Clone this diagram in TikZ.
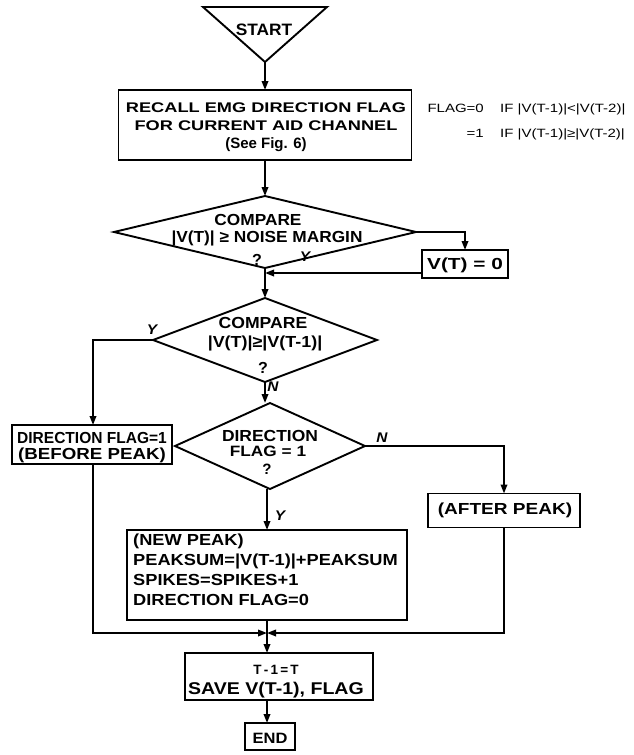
\documentclass[tikz,border=0pt]{standalone}
\usepackage{fontspec}
\setmainfont{Liberation Sans}
\newfontfamily\fB{Liberation Sans}[FakeStretch=1.1]
\newfontfamily\fR{Liberation Sans}[FakeStretch=1.25]
\usetikzlibrary{arrows.meta,shapes.geometric,calc}
\newcommand\fsz[2]{\fontsize{#1}{#1}\selectfont\addfontfeature{FakeStretch=#2}}
\begin{document}
\begin{tikzpicture}[x=1pt,y=-1pt,
 ln/.style={line width=1.9pt, line join=miter},
 arr/.style={ln, -{Triangle[length=9pt,width=6.5pt]}},
 box/.style={draw, ln, rectangle, inner sep=0pt, outer sep=0pt},
 dia/.style={draw, ln, diamond, inner sep=0pt, outer sep=0pt},
 tx/.style={inner sep=0pt, anchor=base, font=\fB\bfseries\fontsize{16}{18}\selectfont},
 yn/.style={inner sep=0pt, font=\fB\bfseries\itshape\fontsize{14}{14}\selectfont},
 an/.style={inner sep=0pt, font=\fR\fontsize{12}{12}\selectfont}]
\useasboundingbox (0,0) rectangle (633,755);

% START
\coordinate (sa) at (265,62);
\draw[ln] (203,7) -- (327,7) -- (sa) -- cycle;
\node[tx] (tstart) at (264,35) {\fsz{16.5}{1.05}START};

% box 1
\node[box, minimum width=293, minimum height=70] (b1) at (265,125) {};
\node[tx] (b1a) at (266,112) {\fsz{14}{1.3}RECALL EMG DIRECTION FLAG};
\node[tx] (b1b) at (266,130) {\fsz{14}{1.3}FOR CURRENT AID CHANNEL};
\node[tx] (b1c) at (266,148) {\fsz{15}{1.0}(See Fig. 6)};

% annotation
\node[an, anchor=base east] (f0) at (484,112) {FLAG=0};
\node[an, anchor=base west] (f0b) at (500,112) {IF |V(T-1)|<|V(T-2)|};
\node[an, anchor=base east] (f1) at (484,137) {=1};
\node[an, anchor=base west] (f1b) at (500,137) {IF |V(T-1)|≥|V(T-2)|};

% diamond 1
\node[dia, minimum width=302, minimum height=72] (d1) at (265,232) {};
\node[tx] (d1a) at (258,225) {\fsz{16}{1.08}COMPARE};
\node[tx] (d1b) at (267,242) {\fsz{16}{1.08}|V(T)| ≥ NOISE MARGIN};
\node[tx] (d1c) at (257,265) {\fsz{16}{1}?};

% V(T)=0
\node[box, minimum width=86, minimum height=28] (v0) at (465,264) {};
\node[tx] (v0t) at (465,269) {\fsz{16}{1.3}V(T) = 0};

% diamond 2
\node[dia, minimum width=224, minimum height=84] (d2) at (265,340) {};
\node[tx] (d2a) at (263,328) {\fsz{16}{1.1}COMPARE};
\node[tx] (d2b) at (265,347) {\fsz{16}{1.12}|V(T)|≥|V(T-1)|};
\node[tx] (d2c) at (263,373) {\fsz{16}{1}?};

% before peak
\node[box, minimum width=160, minimum height=39] (bp) at (92,444.5) {};
\node[tx] (bpa) at (92,443) {\fsz{16}{0.97}DIRECTION FLAG=1};
\node[tx] (bpb) at (92,459) {\fsz{16}{1.17}(BEFORE PEAK)};

% diamond 3
\node[dia, minimum width=190, minimum height=86] (d3) at (270,446) {};
\node[tx] (d3a) at (270,441) {\fsz{16}{1.09}DIRECTION};
\node[tx] (d3b) at (268,456) {\fsz{15}{1.15}FLAG = 1};
\node[tx] (d3c) at (267,474) {\fsz{15}{1}?};

% after peak
\node[box, minimum width=152, minimum height=34] (ap) at (504,510.5) {};
\node[tx] (apt) at (505,514) {\fsz{16}{1.19}(AFTER PEAK)};

% new peak
\node[box, minimum width=280, minimum height=90] (np) at (267,575) {};
\node[tx, anchor=base west] (npa) at (133,545) {\fsz{16}{1.14}(NEW PEAK)};
\node[tx, anchor=base west] (npb) at (133,565) {\fsz{16}{1.14}PEAKSUM=|V(T-1)|+PEAKSUM};
\node[tx, anchor=base west] (npc) at (133,585) {\fsz{16}{1.14}SPIKES=SPIKES+1};
\node[tx, anchor=base west] (npd) at (133,605) {\fsz{16}{1.14}DIRECTION FLAG=0};

% save box
\node[box, minimum width=188, minimum height=47] (tb) at (279,676.5) {};
\node[tx] (tba) at (276,674) {\fsz{13.5}{1}T\,-\,1\,=\,T};
\node[tx] (tbb) at (276,694) {\fsz{17}{1.15}SAVE V(T-1), FLAG};

% end
\node[box, minimum width=50, minimum height=27] (end) at (270,736.5) {};
\node[tx] (endt) at (270,743) {\fsz{15}{1.1}END};

% coordinates
\coordinate (c1) at (465,232);
\coordinate (m1) at (265,273);
\coordinate (c2) at (93,340);
\coordinate (c3) at (504,446);
\coordinate (mg) at (267,633);

% connectors
\draw[arr] (sa) -- (sa |- b1.north);
\draw[arr] (b1.south) -- (d1.north);
\draw[arr] (d1.east) -- (c1) -- (v0.north);
\draw[arr] (v0.west |- m1) -- (m1);
\draw[arr] (d1.south) -- (d2.north);
\draw[arr] (d2.west) -- (c2) -- (c2 |- bp.north);
\draw[arr] (d2.south) -- (d2.south |- d3.north);
\draw[arr] (d3.east) -- (c3) -- (ap.north);
\draw[arr] (d3.south -| mg) -- (mg |- np.north);
\draw[arr] (c2 |- bp.south) -- (c2 |- mg) -- (mg);
\draw[arr] (ap.south) -- (ap.south |- mg) -- (mg);
\draw[ln] (np.south) -- (mg);
\draw[arr] (mg) -- (mg |- tb.north);
\draw[arr] (mg |- tb.south) -- (mg |- end.north);

% labels
\node[yn] (ly1) at (305,257) {Y};
\node[yn] (ly2) at (152,330) {Y};
\node[yn] (ln1) at (273,387) {N};
\node[yn] (ln2) at (382,438) {N};
\node[yn] (ly3) at (280,516) {Y};
\end{tikzpicture}
\end{document}
